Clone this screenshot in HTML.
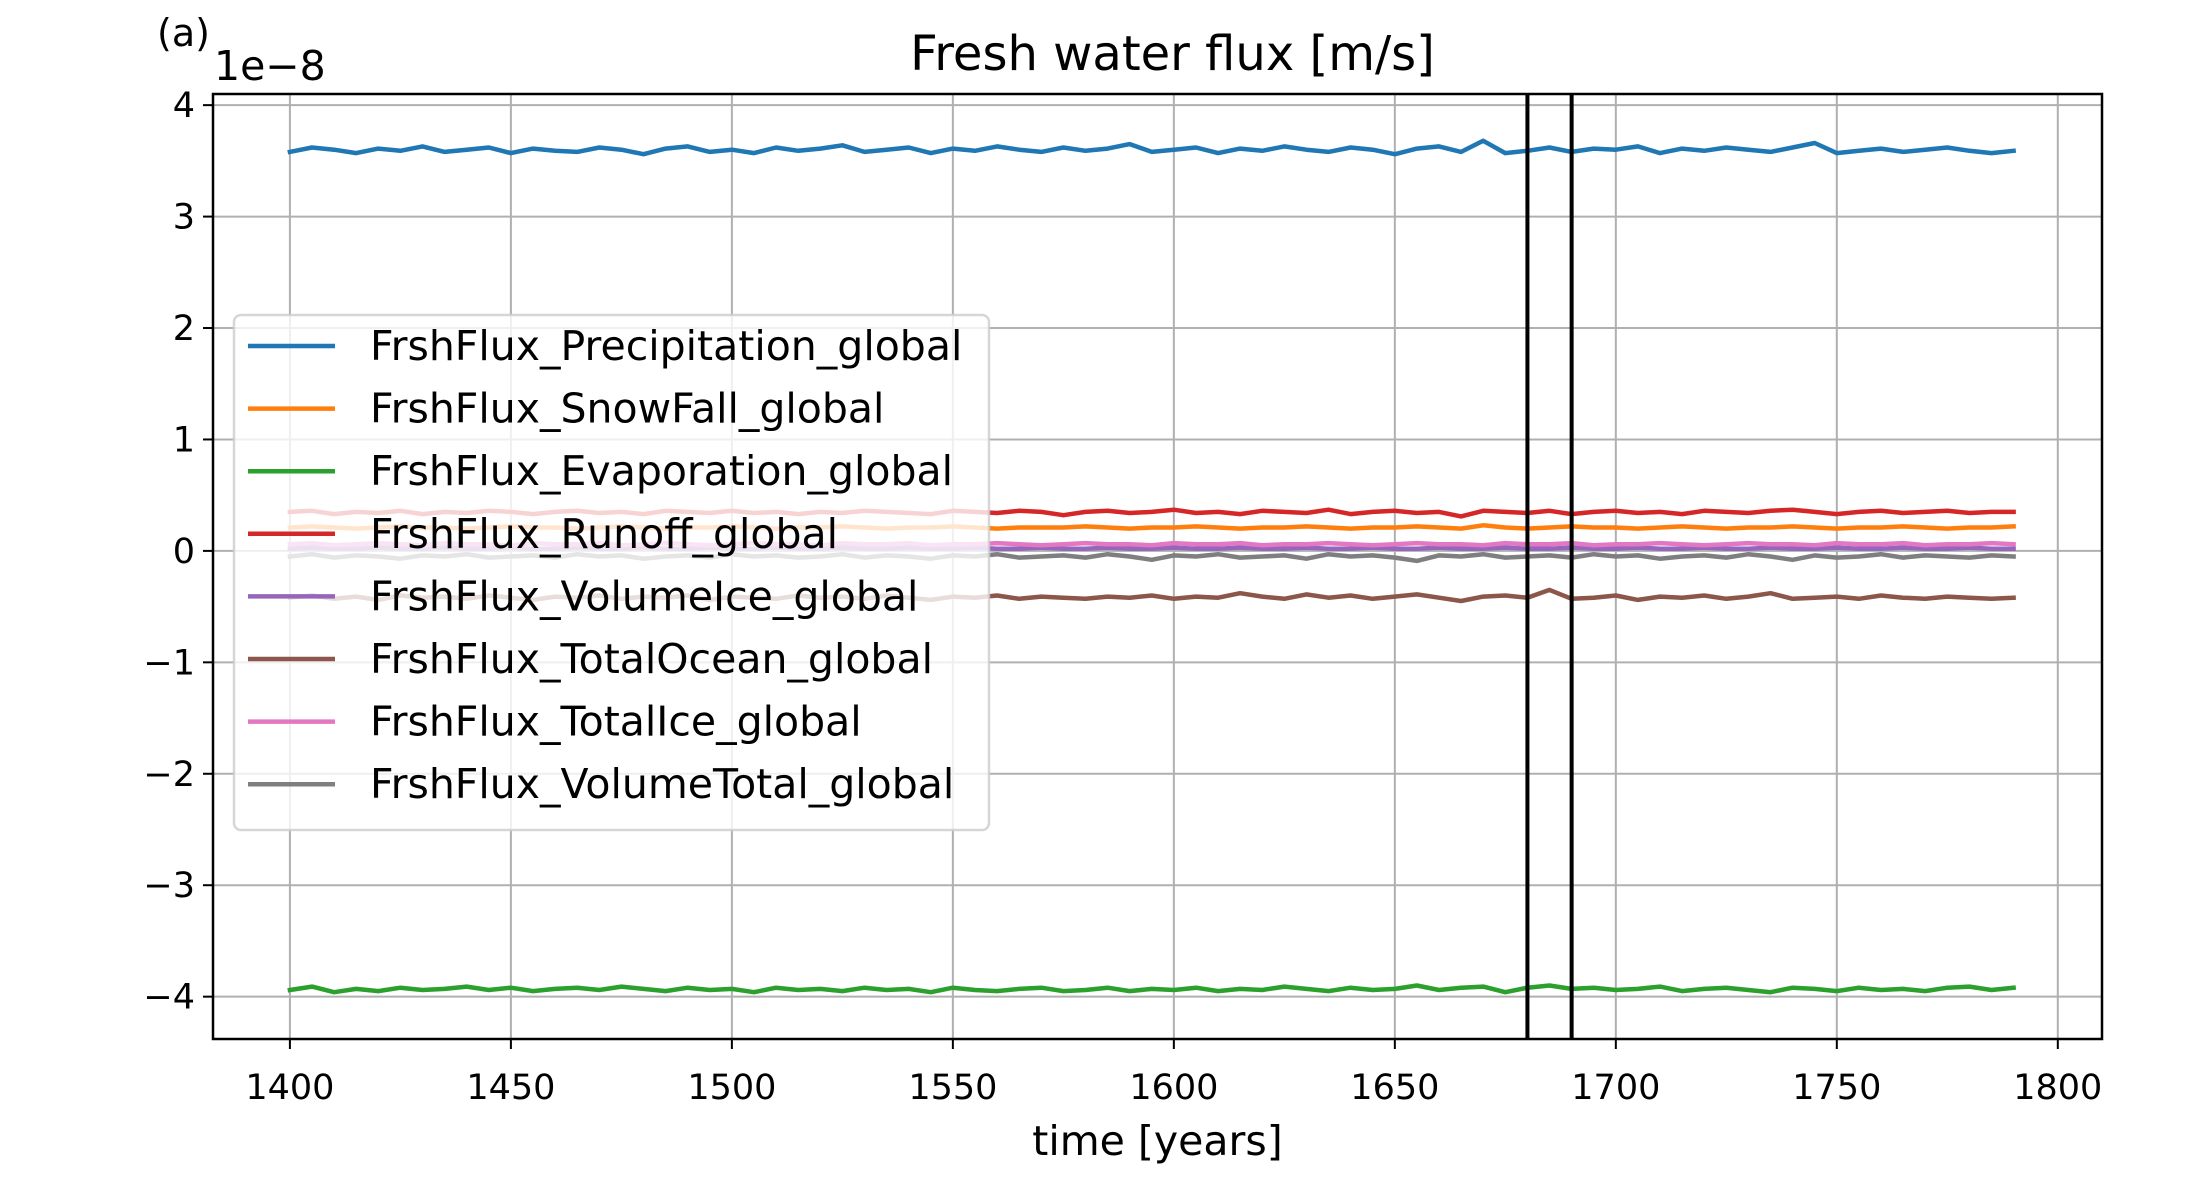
<!DOCTYPE html>
<html><head><meta charset="utf-8">
<style>
html,body{margin:0;padding:0;background:#fff;}
svg{display:block;font-family:"DejaVu Sans","Liberation Sans",sans-serif;}
</style></head>
<body>
<svg id="chart" width="2196" height="1181" viewBox="0 0 2196 1181" xmlns="http://www.w3.org/2000/svg"></svg>
<script>
const startYear = 1400;
const yearStep = 5;
const xTicks = [1400, 1450, 1500, 1550, 1600, 1650, 1700, 1750, 1800];
const yTicks = [-4, -3, -2, -1, 0, 1, 2, 3, 4];
const yTickLabels = ["\u22124", "\u22123", "\u22122", "\u22121", "0", "1", "2", "3", "4"];
const markerYears = [1680, 1690];
const seriesNames = ["FrshFlux_Precipitation_global","FrshFlux_SnowFall_global","FrshFlux_Evaporation_global","FrshFlux_Runoff_global","FrshFlux_VolumeIce_global","FrshFlux_TotalOcean_global","FrshFlux_TotalIce_global","FrshFlux_VolumeTotal_global"];
const seriesColors = ["#1f77b4","#ff7f0e","#2ca02c","#d62728","#9467bd","#8c564b","#e377c2","#7f7f7f"];
const precipitation = [3.58,3.62,3.60,3.57,3.61,3.59,3.63,3.58,3.60,3.62,3.57,3.61,3.59,3.58,3.62,3.60,3.56,3.61,3.63,3.58,3.60,3.57,3.62,3.59,3.61,3.64,3.58,3.60,3.62,3.57,3.61,3.59,3.63,3.60,3.58,3.62,3.59,3.61,3.65,3.58,3.60,3.62,3.57,3.61,3.59,3.63,3.60,3.58,3.62,3.60,3.56,3.61,3.63,3.58,3.68,3.57,3.59,3.62,3.58,3.61,3.60,3.63,3.57,3.61,3.59,3.62,3.60,3.58,3.62,3.66,3.57,3.59,3.61,3.58,3.60,3.62,3.59,3.57,3.59];
const snowFall = [0.21,0.22,0.21,0.20,0.21,0.22,0.21,0.21,0.20,0.21,0.22,0.21,0.21,0.20,0.21,0.22,0.21,0.20,0.21,0.21,0.22,0.21,0.20,0.21,0.21,0.22,0.21,0.20,0.21,0.21,0.22,0.21,0.20,0.21,0.21,0.21,0.22,0.21,0.20,0.21,0.21,0.22,0.21,0.20,0.21,0.21,0.22,0.21,0.20,0.21,0.21,0.22,0.21,0.20,0.23,0.21,0.20,0.21,0.22,0.21,0.21,0.20,0.21,0.22,0.21,0.20,0.21,0.21,0.22,0.21,0.20,0.21,0.21,0.22,0.21,0.20,0.21,0.21,0.22];
const evaporation = [-3.94,-3.91,-3.96,-3.93,-3.95,-3.92,-3.94,-3.93,-3.91,-3.94,-3.92,-3.95,-3.93,-3.92,-3.94,-3.91,-3.93,-3.95,-3.92,-3.94,-3.93,-3.96,-3.92,-3.94,-3.93,-3.95,-3.92,-3.94,-3.93,-3.96,-3.92,-3.94,-3.95,-3.93,-3.92,-3.95,-3.94,-3.92,-3.95,-3.93,-3.94,-3.92,-3.95,-3.93,-3.94,-3.91,-3.93,-3.95,-3.92,-3.94,-3.93,-3.90,-3.94,-3.92,-3.91,-3.96,-3.92,-3.90,-3.93,-3.92,-3.94,-3.93,-3.91,-3.95,-3.93,-3.92,-3.94,-3.96,-3.92,-3.93,-3.95,-3.92,-3.94,-3.93,-3.95,-3.92,-3.91,-3.94,-3.92];
const runoff = [0.35,0.36,0.33,0.35,0.34,0.36,0.33,0.35,0.34,0.36,0.35,0.33,0.35,0.36,0.34,0.35,0.33,0.36,0.35,0.34,0.36,0.34,0.35,0.33,0.35,0.34,0.36,0.35,0.34,0.33,0.36,0.35,0.34,0.36,0.35,0.32,0.35,0.36,0.34,0.35,0.37,0.34,0.35,0.33,0.36,0.35,0.34,0.37,0.33,0.35,0.36,0.34,0.35,0.31,0.36,0.35,0.34,0.36,0.33,0.35,0.36,0.34,0.35,0.33,0.36,0.35,0.34,0.36,0.37,0.35,0.33,0.35,0.36,0.34,0.35,0.36,0.34,0.35,0.35];
const volumeIce = [0.02,0.03,0.02,0.02,0.03,0.02,0.02,0.03,0.02,0.02,0.03,0.02,0.02,0.03,0.02,0.02,0.03,0.02,0.02,0.03,0.02,0.02,0.03,0.02,0.02,0.03,0.02,0.02,0.03,0.02,0.02,0.03,0.02,0.02,0.03,0.02,0.02,0.03,0.02,0.02,0.03,0.02,0.02,0.03,0.02,0.02,0.03,0.02,0.02,0.03,0.02,0.02,0.03,0.02,0.02,0.03,0.02,0.02,0.03,0.02,0.02,0.03,0.02,0.02,0.03,0.02,0.02,0.03,0.02,0.02,0.03,0.02,0.02,0.03,0.02,0.02,0.03,0.02,0.02];
const totalOcean = [-0.42,-0.40,-0.43,-0.41,-0.44,-0.40,-0.42,-0.41,-0.43,-0.40,-0.42,-0.44,-0.41,-0.42,-0.40,-0.43,-0.41,-0.42,-0.40,-0.44,-0.41,-0.42,-0.43,-0.40,-0.42,-0.41,-0.43,-0.40,-0.42,-0.44,-0.41,-0.42,-0.40,-0.43,-0.41,-0.42,-0.43,-0.41,-0.42,-0.40,-0.43,-0.41,-0.42,-0.38,-0.41,-0.43,-0.39,-0.42,-0.40,-0.43,-0.41,-0.39,-0.42,-0.45,-0.41,-0.40,-0.42,-0.35,-0.43,-0.42,-0.40,-0.44,-0.41,-0.42,-0.40,-0.43,-0.41,-0.38,-0.43,-0.42,-0.41,-0.43,-0.40,-0.42,-0.43,-0.41,-0.42,-0.43,-0.42];
const totalIce = [0.06,0.07,0.05,0.06,0.07,0.06,0.05,0.07,0.06,0.06,0.05,0.07,0.06,0.06,0.07,0.05,0.06,0.07,0.06,0.05,0.06,0.07,0.06,0.06,0.05,0.07,0.06,0.06,0.07,0.05,0.06,0.06,0.07,0.06,0.05,0.06,0.07,0.06,0.06,0.05,0.07,0.06,0.06,0.07,0.05,0.06,0.06,0.07,0.06,0.05,0.06,0.07,0.06,0.06,0.05,0.07,0.06,0.06,0.07,0.05,0.06,0.06,0.07,0.06,0.05,0.06,0.07,0.06,0.06,0.05,0.07,0.06,0.06,0.07,0.05,0.06,0.06,0.07,0.06];
const volumeTotal = [-0.05,-0.03,-0.06,-0.04,-0.05,-0.07,-0.04,-0.05,-0.03,-0.06,-0.05,-0.04,-0.06,-0.03,-0.05,-0.04,-0.07,-0.05,-0.04,-0.06,-0.03,-0.05,-0.04,-0.06,-0.05,-0.03,-0.06,-0.04,-0.05,-0.07,-0.04,-0.05,-0.03,-0.06,-0.05,-0.04,-0.06,-0.03,-0.05,-0.08,-0.04,-0.05,-0.03,-0.06,-0.05,-0.04,-0.07,-0.03,-0.05,-0.04,-0.06,-0.09,-0.04,-0.05,-0.03,-0.06,-0.05,-0.04,-0.06,-0.03,-0.05,-0.04,-0.07,-0.05,-0.04,-0.06,-0.03,-0.05,-0.08,-0.04,-0.06,-0.05,-0.03,-0.06,-0.04,-0.05,-0.06,-0.04,-0.05];
const seriesValues = [precipitation, snowFall, evaporation, runoff, volumeIce, totalOcean, totalIce, volumeTotal];

const NS = "http://www.w3.org/2000/svg";
const svg = document.getElementById("chart");
const L = 213, R = 2102, T = 94, B = 1039;
const xMin = 1382.6, xMax = 1810.0, yMin = -4.38, yMax = 4.10;
function xs(v){ return L + (v - xMin) / (xMax - xMin) * (R - L); }
function ys(v){ return B - (v - yMin) / (yMax - yMin) * (B - T); }
function mk(tag, attrs, parent){
  const e = document.createElementNS(NS, tag);
  for (const k in attrs) e.setAttribute(k, attrs[k]);
  (parent || svg).appendChild(e);
  return e;
}

// grid
const grid = mk("g", {});


xTicks.forEach(v => {
  const l = mk("line", {x1: xs(v), x2: xs(v), y1: T, y2: B, stroke: "#b0b0b0", "stroke-width": 2}, grid);
  
  
});
yTicks.forEach(v => {
  const l = mk("line", {x1: L, x2: R, y1: ys(v), y2: ys(v), stroke: "#b0b0b0", "stroke-width": 2}, grid);
  
  
});

// series
const plot = mk("g", {"stroke-linejoin": "round", "stroke-linecap": "square", fill: "none"});


seriesValues.forEach((arr, si) => {
  const pts = arr.map((v, i) => xs(startYear + i * yearStep).toFixed(1) + "," + ys(v).toFixed(1)).join(" ");
  const pl = mk("polyline", {points: pts, stroke: seriesColors[si], "stroke-width": 4.5}, plot);
  
  
});

// marker lines
markerYears.forEach(v => {
  const l = mk("line", {x1: xs(v), x2: xs(v), y1: T, y2: B, stroke: "#000", "stroke-width": 4});
  
  
});

// spines
const frame = mk("rect", {x: L, y: T, width: R - L, height: B - T, fill: "none", stroke: "#000", "stroke-width": 2.5});



// ticks & labels
xTicks.forEach(v => {
  const t = mk("line", {x1: xs(v), x2: xs(v), y1: B, y2: B + 10, stroke: "#000", "stroke-width": 2});
  
  
  const tx = mk("text", {x: xs(v), y: 1099, "text-anchor": "middle", "font-size": 35, fill: "#000"});
  tx.textContent = v;
  
  
});
yTicks.forEach((v, i) => {
  const t = mk("line", {x1: L - 10, x2: L, y1: ys(v), y2: ys(v), stroke: "#000", "stroke-width": 2});
  
  
  const tx = mk("text", {x: L - 18, y: ys(v) + 12, "text-anchor": "end", "font-size": 35, fill: "#000"});
  tx.textContent = yTickLabels[i];
  
  
});

// texts
const title = mk("text", {x: (L + R) / 2 + 15, y: 70, "text-anchor": "middle", "font-size": 48, fill: "#000"});
title.textContent = "Fresh water flux [m/s]";


const panel = mk("text", {x: 157, y: 46, "font-size": 38, fill: "#000"});
panel.textContent = "(a)";


const off = mk("text", {x: 214, y: 80, "font-size": 41, fill: "#000"});
off.textContent = "1e\u22128";


const xl = mk("text", {x: (L + R) / 2, y: 1155, "text-anchor": "middle", "font-size": 41, fill: "#000"});
xl.textContent = "time [years]";



// legend
const leg = mk("g", {});


const lb = mk("rect", {x: 234, y: 315, width: 755, height: 515, rx: 7, fill: "#fff", "fill-opacity": 0.8, stroke: "#cccccc", "stroke-opacity": 0.8, "stroke-width": 2.5}, leg);


seriesNames.forEach((n, i) => {
  const y = 346 + i * 62.6;
  const g = mk("g", {}, leg);
  
  
  const h = mk("line", {x1: 248, x2: 335, y1: y, y2: y, stroke: seriesColors[i], "stroke-width": 4.5}, g);
  
  
  const t = mk("text", {x: 370, y: y + 14, "font-size": 41, fill: "#000"}, g);
  t.textContent = n;
  
  
});
</script>
</body></html>
